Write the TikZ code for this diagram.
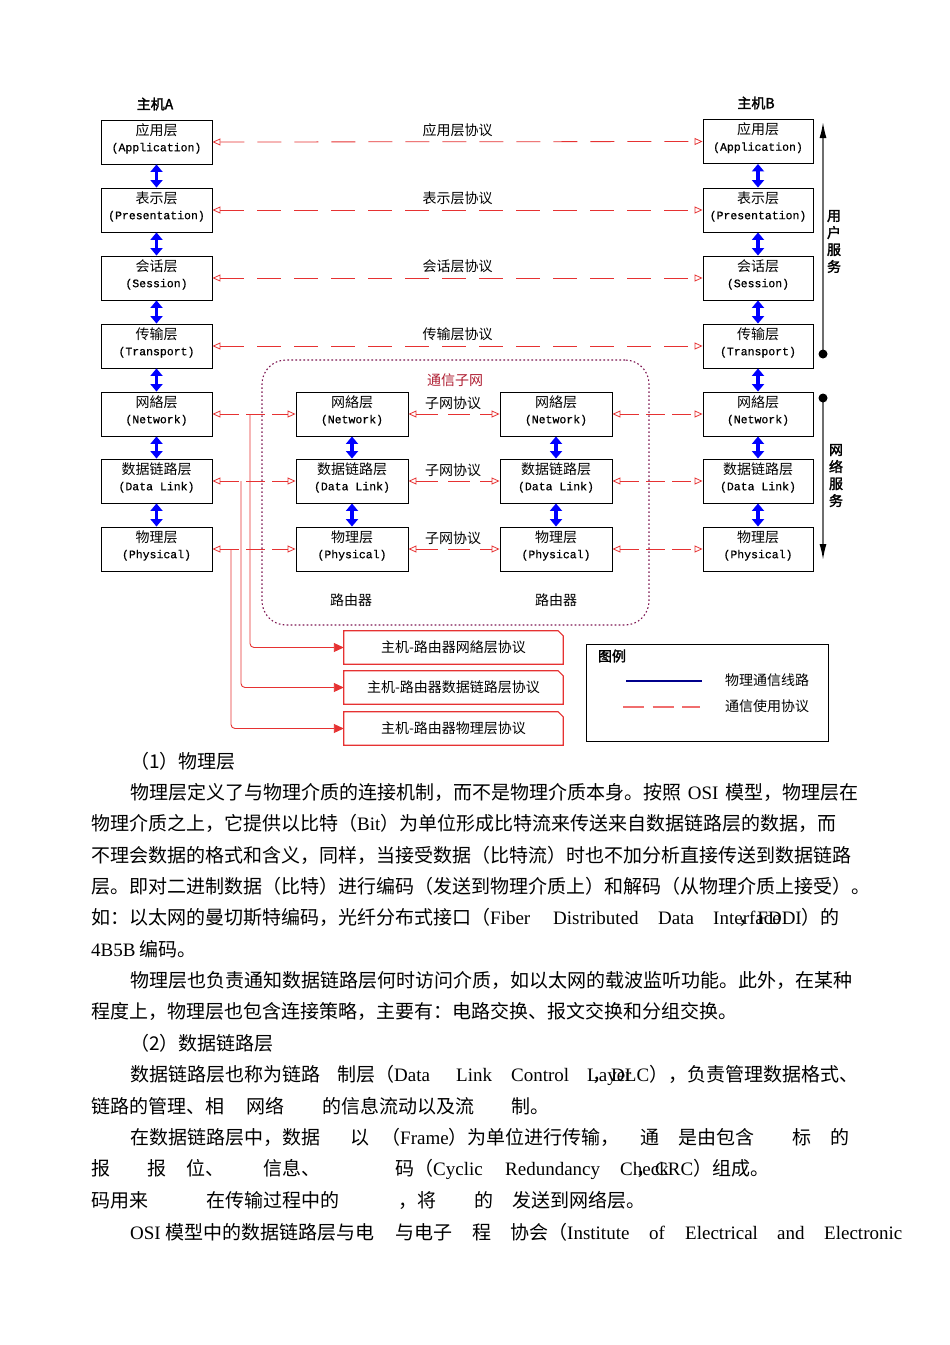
\documentclass[tikz,border=0pt]{standalone}
\usepackage{fontspec}
\setmainfont{Noto Sans CJK SC}[AutoFakeBold=2]
\newfontfamily\latfont{Liberation Serif}
\newfontfamily\monofont{Liberation Mono}[FakeBold=0.6]
\usetikzlibrary{arrows.meta}
\XeTeXlinebreaklocale "zh"
\XeTeXlinebreakskip=0pt plus 3pt
\definecolor{pred}{RGB}{230,50,50}
\definecolor{lblue}{RGB}{0,0,255}
\definecolor{subc}{RGB}{125,20,80}
\definecolor{subtxt}{RGB}{175,30,50}
\definecolor{navy2}{RGB}{0,0,140}
\definecolor{lpink}{RGB}{240,110,110}
\definecolor{gline}{RGB}{110,110,110}
\newcommand\lt[1]{{\latfont #1}}
\newcommand\lay[6]{%
  \node[layer,minimum width=#4pt] (#1) at (#2,#3) {};
  \node[laytxt] (#1t) at (#2,#3-3.5) {#5\\{\monofont\fontsize{11.5}{16}\selectfont #6}};}
\begin{document}
\begin{tikzpicture}[x=1pt,y=-1pt,
  layer/.style={draw=black, line width=0.9pt, minimum height=44pt, inner sep=0pt},
  laytxt/.style={align=center, inner sep=0pt, font=\fontsize{14}{16}\selectfont},
  barr/.style={draw=lblue, line width=3.6pt, {Triangle[width=12pt,length=7.5pt]}-{Triangle[width=12pt,length=7.5pt]}},
  proto/.style={draw=pred, line width=0.8pt, dash pattern=on 24pt off 13pt, {Triangle[open,width=7pt,length=8pt]}-{Triangle[open,width=7pt,length=8pt]}},
  sproto/.style={proto, dash pattern=on 19pt off 7pt},
  plab/.style={font=\fontsize{14}{16}\selectfont, inner sep=0pt},
  blab/.style={font=\bfseries\fontsize{14}{16}\selectfont, inner sep=0pt},
  hrline/.style={draw=pred, line width=0.9pt, rounded corners=4pt, -{Triangle[width=9pt,length=10pt]}},
  hrbox/.style={minimum width=219pt, minimum height=33pt, inner sep=0pt, font=\fontsize{14}{16}\selectfont},
  hredge/.style={draw=pred, line width=1.2pt},
  bt/.style={anchor=west, inner sep=0pt, font=\fontsize{19}{22}\selectfont, text height=16.5pt, text depth=2.5pt},
  garr/.style={draw=gline, line width=1.6pt, -{Latex[black,length=16pt,width=7pt]}}
]
\fill[white] (0,0) rectangle (950,1345);
\useasboundingbox (0,0) rectangle (950,1345);

% titles
\node[blab] (hA) at (155,104) {主机A};
\node[blab] (hB) at (756,103) {主机B};

% host A
\lay{A1}{156.5}{142}{111}{应用层}{(Application)}
\lay{A2}{156.5}{210}{111}{表示层}{(Presentation)}
\lay{A3}{156.5}{278}{111}{会话层}{(Session)}
\lay{A4}{156.5}{346}{111}{传输层}{(Transport)}
\lay{A5}{156.5}{414}{111}{网絡层}{(Network)}
\lay{A6}{156.5}{481}{111}{数据链路层}{(Data Link)}
\lay{A7}{156.5}{549}{111}{物理层}{(Physical)}
% host B
\lay{B1}{758}{141.5}{110}{应用层}{(Application)}
\lay{B2}{758}{210}{110}{表示层}{(Presentation)}
\lay{B3}{758}{278}{110}{会话层}{(Session)}
\lay{B4}{758}{346}{110}{传输层}{(Transport)}
\lay{B5}{758}{414}{110}{网絡层}{(Network)}
\lay{B6}{758}{481}{110}{数据链路层}{(Data Link)}
\lay{B7}{758}{549}{110}{物理层}{(Physical)}
% routers
\lay{R1}{352}{414}{112}{网絡层}{(Network)}
\lay{R2}{352}{481}{112}{数据链路层}{(Data Link)}
\lay{R3}{352}{549}{112}{物理层}{(Physical)}
\lay{S1}{556}{414}{112}{网絡层}{(Network)}
\lay{S2}{556}{481}{112}{数据链路层}{(Data Link)}
\lay{S3}{556}{549}{112}{物理层}{(Physical)}

% blue vertical links
\foreach \p/\q in {A1/A2,A2/A3,A3/A4,A4/A5,A5/A6,A6/A7,B1/B2,B2/B3,B3/B4,B4/B5,B5/B6,B6/B7,R1/R2,R2/R3,S1/S2,S2/S3}
  \draw[barr] (\p.south) -- (\q.north);

% peer protocols
\draw[proto] (A1.east) -- (B1.west) node[plab, midway, above=5pt] (p1) {应用层协议};
\draw[proto] (A2.east) -- (B2.west) node[plab, midway, above=5pt] (p2) {表示层协议};
\draw[proto] (A3.east) -- (B3.west) node[plab, midway, above=5pt] (p3) {会话层协议};
\draw[proto] (A4.east) -- (B4.west) node[plab, midway, above=5pt] (p4) {传输层协议};

% subnet
\node[draw=subc, line width=1.1pt, dash pattern=on 1.6pt off 2.4pt, rounded corners=24pt, minimum width=387pt, minimum height=265pt, inner sep=0pt] (subnet) at (455.5,492.5) {};
\node[plab, text=subtxt] (subt) at (455,380) {通信子网};
\node[plab] (rt1) at (351,600) {路由器};
\node[plab] (rt2) at (556,600) {路由器};

\draw[sproto] (A5.east) -- (R1.west);
\draw[sproto] (A6.east) -- (R2.west);
\draw[sproto] (A7.east) -- (R3.west);
\draw[sproto, dash pattern=on 22pt off 10pt] (R1.east) -- (S1.west);
\draw[sproto, dash pattern=on 22pt off 10pt] (R2.east) -- (S2.west);
\draw[sproto, dash pattern=on 22pt off 10pt] (R3.east) -- (S3.west);
\draw[sproto] (S1.east) -- (B5.west);
\draw[sproto] (S2.east) -- (B6.west);
\draw[sproto] (S3.east) -- (B7.west);
\node[plab] (sp1) at (453,403) {子网协议};
\node[plab] (sp2) at (453,470) {子网协议};
\node[plab] (sp3) at (453,538) {子网协议};

% host-router protocol boxes
\node[hrbox] (H1) at (453.5,647.5) {主机-路由器网絡层协议};
\node[hrbox] (H2) at (453.5,687.5) {主机-路由器数据链路层协议};
\node[hrbox] (H3) at (453.5,728.5) {主机-路由器物理层协议};
\foreach \h in {H1,H2,H3}{
  \draw[hredge] (\h.north west) -- ([xshift=-5pt]\h.north east) -- ([yshift=-5pt]\h.north east) -- (\h.south east) -- (\h.south west) -- cycle;
}
\coordinate (j1) at (250,414);
\coordinate (j2) at (241,481);
\coordinate (j3) at (231,549);
\draw[hrline] (j1) |- (H1.west);
\draw[hrline] (j2) |- (H2.west);
\draw[hrline] (j3) |- (H3.west);

% legend
\node[draw, line width=0.9pt, minimum width=242pt, minimum height=97pt, inner sep=0pt] (leg) at (707,692.5) {};
\node[blab] (legt) at (612,656) {图例};
\coordinate (l1a) at (626,681); \coordinate (l1b) at (702,681);
\draw[navy2, line width=1.2pt] (l1a) -- (l1b);
\node[plab] (l1t) at (767,680) {物理通信线路};
\coordinate (l2a) at (623,707); \coordinate (l2b) at (700,707);
\draw[lpink, line width=1.4pt, dash pattern=on 21pt off 8.5pt] (l2a) -- (l2b);
\node[plab] (l2t) at (767,706) {通信使用协议};

% service arrows
\coordinate (u1) at (823,354); \coordinate (u2) at (823,122);
\draw[garr] (u1) -- (u2);
\fill (u1) circle (4.5pt);
\coordinate (n1) at (823,398); \coordinate (n2) at (823,560);
\draw[garr] (n1) -- (n2);
\fill (n1) circle (4.5pt);
\node[blab, align=center, font=\bfseries\fontsize{14}{17}\selectfont] (us) at (834,241.5) {用\\户\\服\\务};
\node[blab, align=center, font=\bfseries\fontsize{14}{17}\selectfont] (ns) at (836,475.5) {网\\络\\服\\务};

% body text
\node[bt] (b01) at (130,761) {（1）物理层};
\node[bt] (b02) at (130,792) {\hbox to 728pt{物理层定义了与物理介质的连接机制，而不是物理介质本身。按照 \lt{OSI} 模型，物理层在}};
\node[bt] (b03) at (91,823) {\hbox to 749pt{物理介质之上，它提供以比特（\lt{Bit}）为单位形成比特流来传送来自数据链路层的数据，而}};
\node[bt] (b04) at (91,855) {\hbox to 765pt{不理会数据的格式和含义，同样，当接受数据（比特流）时也不加分析直接传送到数据链路}};
\node[bt] (b05) at (91,886) {\hbox to 774pt{层。即对二进制数据（比特）进行编码（发送到物理介质上）和解码（从物理介质上接受）。}};
\node[bt] (b06a) at (91,917) {如：以太网的曼切斯特编码，光纤分布式接口（\lt{Fiber}};
\node[bt] (b06b) at (553,917) {\lt{Distributed}};
\node[bt] (b06c) at (658,917) {\lt{Data}};
\node[bt] (b06d) at (713,917) {\lt{Interface}};
\node[bt,anchor=east] (b06e) at (840,917) {，\lt{FDDI}）的};
\node[bt] (b07) at (91,949) {\lt{4B5B} 编码。};
\node[bt] (b08) at (130,980) {\hbox to 727pt{物理层也负责通知数据链路层何时访问介质，如以太网的载波监听功能。此外，在某种}};
\node[bt] (b09) at (91,1011) {程度上，物理层也包含连接策略，主要有：电路交换、报文交换和分组交换。};
\node[bt] (b10) at (130,1043) {（2）数据链路层};
% line 1074
\node[bt] (b11a) at (130,1074) {数据链路层也称为链路};
\node[bt] (b11b) at (337,1074) {制层（\lt{Data}};
\node[bt] (b11c) at (456,1074) {\lt{Link}};
\node[bt] (b11d) at (511,1074) {\lt{Control}};
\node[bt] (b11e) at (587,1074) {\lt{Layer}};
\node[bt] (b11f) at (592,1074) {，\lt{DLC}），负责管理数据格式、};
% line 1106
\node[bt] (b12a) at (91,1106) {链路的管理、相};
\node[bt] (b12b) at (246,1106) {网络};
\node[bt] (b12c) at (322,1106) {的信息流动以及流};
\node[bt] (b12d) at (511,1106) {制。};
% line 1137
\node[bt] (b13a) at (130,1137) {在数据链路层中，数据};
\node[bt] (b13b) at (350,1137) {以};
\node[bt] (b13c) at (381,1137) {（\lt{Frame}）为单位进行传输，};
\node[bt] (b13d) at (640,1137) {通};
\node[bt] (b13e) at (678,1137) {是由包含};
\node[bt] (b13f) at (792,1137) {标};
\node[bt] (b13g) at (830,1137) {的};
% line 1168
\node[bt] (b14a) at (91,1168) {报};
\node[bt] (b14b) at (147,1168) {报};
\node[bt] (b14c) at (186,1168) {位、};
\node[bt] (b14d) at (263,1168) {信息、};
\node[bt] (b14e) at (395,1168) {码（\lt{Cyclic}};
\node[bt] (b14f) at (505,1168) {\lt{Redundancy}};
\node[bt] (b14g) at (620,1168) {\lt{Check}};
\node[bt] (b14h) at (636,1168) {，\lt{CRC}）组成。};
% line 1200
\node[bt] (b15a) at (91,1200) {码用来};
\node[bt] (b15b) at (206,1200) {在传输过程中的};
\node[bt] (b15c) at (398,1200) {，将};
\node[bt] (b15d) at (474,1200) {的};
\node[bt] (b15e) at (512,1200) {发送到网络层。};
% line 1232
\node[bt] (b16a) at (130,1232) {\lt{OSI} 模型中的数据链路层与电};
\node[bt] (b16b) at (395,1232) {与电子};
\node[bt] (b16c) at (472,1232) {程};
\node[bt] (b16d) at (510,1232) {协会（\lt{Institute}};
\node[bt] (b16e) at (649,1232) {\lt{of}};
\node[bt] (b16f) at (685,1232) {\lt{Electrical}};
\node[bt] (b16g) at (777,1232) {\lt{and}};
\node[bt] (b16h) at (824,1232) {\lt{Electronic}};
\end{tikzpicture}
\end{document}
